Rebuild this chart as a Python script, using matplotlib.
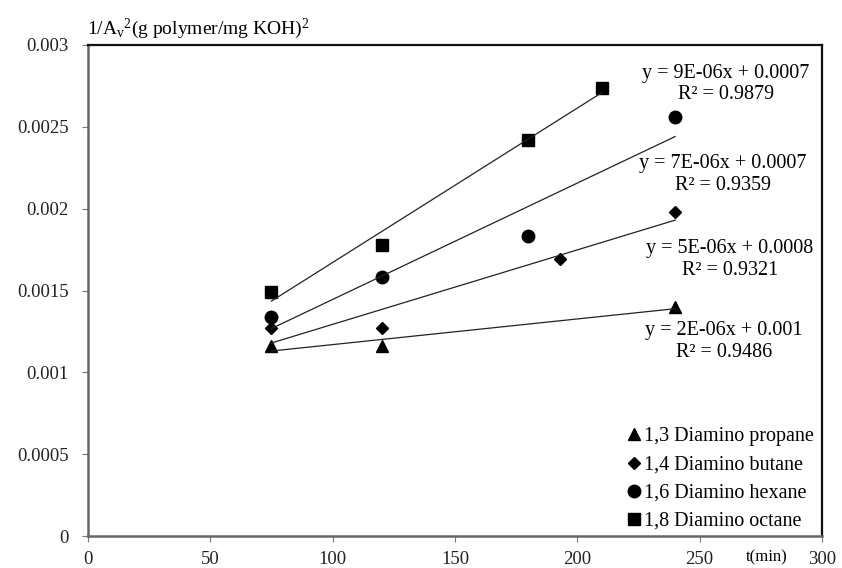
import numpy as np
import matplotlib
matplotlib.use('Agg')
import matplotlib.pyplot as plt

# time (min) and 1/Av^2 for each diamine
t_propane = [75, 120, 240]
y_propane = [0.00116, 0.00116, 0.00140]

t_butane = [75, 120, 193, 240]
y_butane = [0.00127, 0.00127, 0.00169, 0.00198]

t_hexane = [75, 120, 180, 240]
y_hexane = [0.00134, 0.00158, 0.00183, 0.00256]

t_octane = [75, 120, 180, 210]
y_octane = [0.00149, 0.00178, 0.00242, 0.00274]

labels = ['1,3 Diamino propane', '1,4 Diamino butane', '1,6 Diamino hexane', '1,8 Diamino octane']
equations = ['y = 2E-06x + 0.001\nR² = 0.9486',
             'y = 5E-06x + 0.0008\nR² = 0.9321',
             'y = 7E-06x + 0.0007\nR² = 0.9359',
             'y = 9E-06x + 0.0007\nR² = 0.9879']
eq_pos = [(260.0, 0.001189), (262.3, 0.001689), (259.5, 0.002207), (260.7, 0.002762)]

yticks = [0, 0.0005, 0.001, 0.0015, 0.002, 0.0025, 0.003]
yticklabels = ['0', '0.0005', '0.001', '0.0015', '0.002', '0.0025', '0.003']
xticks = [0, 50, 100, 150, 200, 250, 300]

plt.rcParams['font.family'] = ['Liberation Serif', 'DejaVu Serif']
plt.rcParams['mathtext.fontset'] = 'custom'
plt.rcParams['mathtext.rm'] = 'Liberation Serif'
plt.rcParams['mathtext.it'] = 'Liberation Serif:italic'
plt.rcParams['font.size'] = 13.5

fig = plt.figure(figsize=(8.42, 5.68), dpi=100)
ax = fig.add_axes([0.1045, 0.0563, 0.8717, 0.8645])

series = [(t_propane, y_propane, '^', 9),
          (t_butane, y_butane, 'D', 6),
          (t_hexane, y_hexane, 'o', 9),
          (t_octane, y_octane, 's', 9)]

for (t, y, m, ms), lab in zip(series, labels):
    ax.plot(t, y, linestyle='none', marker=m, markersize=ms, color='black', label=lab)
    # linear trendline over the measured range
    k, b = np.polyfit(t, y, 1)
    xx = np.array([min(t), max(t)])
    ax.plot(xx, k * xx + b, color='#222222', linewidth=0.9)

for (x, y), eq in zip(eq_pos, equations):
    ax.text(x, y, eq, ha='center', va='center', fontsize=14.5, linespacing=1.2)

ax.set_xlim(0, 300)
ax.set_ylim(0, 0.003)
ax.set_xticks(xticks)
ax.set_yticks(yticks)
ax.set_yticklabels(yticklabels)
ax.tick_params(direction='out', length=4, width=0.8, color='#777777', labelcolor='#222222')
ax.tick_params(axis='y', pad=10)
ax.tick_params(axis='x', pad=7)

for side in ['left', 'bottom']:
    ax.spines[side].set_linewidth(1.8)
    ax.spines[side].set_color('#666666')
for side in ['top', 'right']:
    ax.spines[side].set_linewidth(1.6)
    ax.spines[side].set_color('#111111')

ax.text(-0.001, 1.008, r'1/A$_\mathrm{v}$$^\mathrm{2}$(g polymer/mg KOH)$^\mathrm{2}$',
        transform=ax.transAxes, ha='left', va='bottom', fontsize=14)
ax.text(277.5, -0.000128, 't(min)', ha='center', va='center', fontsize=12,
        clip_on=False)

ax.legend(loc='lower right', bbox_to_anchor=(1.0, -0.006), frameon=False,
          handletextpad=0.0, handlelength=1.0, labelspacing=0.45,
          borderaxespad=0.0, fontsize=14.5)

fig.savefig('out.png', dpi=100)
